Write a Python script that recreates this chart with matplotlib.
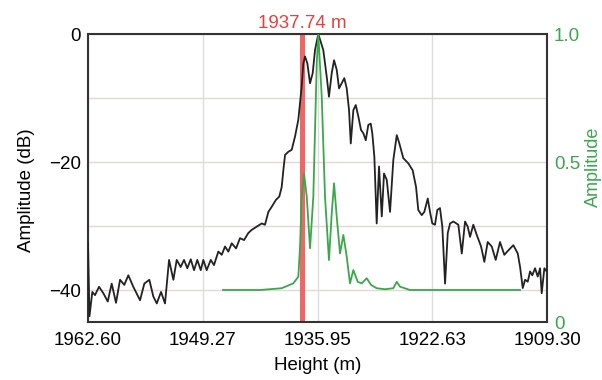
import numpy as np
import matplotlib
matplotlib.use("Agg")
import matplotlib.pyplot as plt

plt.rcParams['font.family'] = ['Liberation Sans', 'DejaVu Sans']

# black trace: height (m) vs amplitude (dB)
height_db = [1962.60, 1962.43, 1962.10, 1961.79, 1961.32, 1960.82, 1960.31, 1959.85,
             1959.35, 1958.88, 1958.39, 1957.92, 1957.34, 1956.56, 1956.06, 1955.48,
             1955.02, 1954.62, 1954.12, 1953.66, 1953.19, 1952.69, 1952.30, 1951.84,
             1951.45, 1951.07, 1950.67, 1950.29, 1949.91, 1949.51, 1949.21, 1948.82,
             1948.35, 1947.97, 1947.47, 1947.07, 1946.69, 1946.31, 1945.91, 1945.41,
             1944.95, 1944.48, 1943.99, 1943.59, 1943.01, 1942.43, 1942.05, 1941.66,
             1941.27, 1940.77, 1940.39, 1940.11, 1939.92, 1939.72, 1939.34, 1938.95,
             1938.56, 1938.18, 1937.98, 1937.79, 1937.60, 1937.40, 1937.13, 1936.82,
             1936.51, 1936.24, 1935.86, 1935.28, 1934.88, 1934.62, 1934.30, 1934.03,
             1933.72, 1933.45, 1933.14, 1932.84, 1932.56, 1932.29, 1932.09, 1931.79,
             1931.51, 1931.21, 1930.90, 1930.63, 1930.35, 1930.05, 1929.77, 1929.59,
             1929.35, 1929.08, 1928.81, 1928.49, 1928.23, 1927.91, 1927.53, 1927.15,
             1926.75, 1926.45, 1925.99, 1925.41, 1924.90, 1924.51, 1924.25, 1923.85,
             1923.55, 1923.15, 1922.89, 1922.62, 1922.31, 1922.04, 1921.73, 1921.46,
             1921.14, 1920.83, 1920.56, 1920.18, 1919.60, 1919.20, 1918.82, 1918.51,
             1918.24, 1917.86, 1917.46, 1916.96, 1916.58, 1916.19, 1915.72, 1915.26,
             1914.76, 1914.26, 1913.79, 1913.21, 1912.70, 1912.43, 1912.12, 1911.85,
             1911.54, 1911.27, 1911.01, 1910.69, 1910.38, 1910.11, 1909.92, 1909.61,
             1909.34]
amp_db = [-32.7, -44.1, -40.3, -40.8, -39.5, -40.5, -41.8, -39.0,
          -42.0, -38.4, -39.2, -37.7, -39.5, -41.6, -39.0, -38.4,
          -41.0, -42.1, -40.3, -42.1, -35.3, -38.4, -35.3, -36.4,
          -35.3, -36.6, -35.2, -36.9, -35.3, -36.9, -35.3, -36.9,
          -35.3, -36.1, -34.0, -34.5, -33.2, -34.0, -32.7, -33.5,
          -31.9, -32.2, -31.1, -30.6, -30.1, -29.6, -29.8, -27.8,
          -27.0, -25.9, -25.4, -23.9, -21.3, -18.9, -18.4, -18.1,
          -16.0, -13.4, -10.8, -8.2, -4.6, -3.5, -4.6, -7.7,
          -6.1, -2.5, 0.0, -2.5, -6.7, -9.8, -6.1, -4.1,
          -5.6, -8.5, -7.7, -6.9, -8.5, -11.9, -17.1, -11.9,
          -11.1, -12.9, -15.0, -15.5, -16.6, -14.2, -14.0, -15.5,
          -19.2, -29.6, -20.7, -28.5, -21.8, -22.8, -27.8, -19.7,
          -15.8, -17.1, -19.4, -20.2, -21.3, -23.9, -27.5, -28.3,
          -27.8, -25.7, -27.8, -29.6, -29.8, -27.5, -27.2, -30.1,
          -39.0, -31.1, -29.6, -29.3, -29.8, -34.3, -29.3, -30.1,
          -31.7, -29.8, -31.4, -33.2, -35.6, -32.5, -33.2, -35.3,
          -32.5, -34.5, -33.8, -33.0, -34.3, -36.4, -39.7, -38.4,
          -38.7, -37.1, -37.7, -36.6, -37.9, -36.6, -40.5, -36.6,
          -37.1]

# green trace: height (m) vs linear amplitude
height_lin = [1946.92, 1942.63, 1940.11, 1938.76, 1938.18, 1937.98, 1937.79, 1937.52,
              1937.20, 1936.82, 1936.44, 1936.24, 1936.04, 1935.86, 1935.46, 1935.08,
              1934.62, 1934.30, 1934.03, 1933.72, 1933.34, 1932.95, 1932.56, 1932.18,
              1931.79, 1931.28, 1930.82, 1930.24, 1929.74, 1929.08, 1928.11, 1927.15,
              1926.75, 1926.37, 1925.21, 1912.43]
amp_lin = [0.0, 0.0, 0.007, 0.026, 0.052, 0.169, 0.364, 0.456,
           0.364, 0.163, 0.364, 0.625, 0.886, 1.0, 0.755, 0.364,
           0.117, 0.300, 0.417, 0.286, 0.143, 0.215, 0.130, 0.026,
           0.078, 0.032, 0.026, 0.046, 0.020, 0.007, 0.003, 0.007,
           0.032, 0.013, 0.0, 0.0]

x_ticks = [1962.60, 1949.27, 1935.95, 1922.63, 1909.30]
marker_height = 1937.74

black = '#222222'
green = '#3aa84a'
red = '#e8403f'

fig = plt.figure(figsize=(6.02, 3.80), dpi=100)
ax = fig.add_axes([0.1462, 0.1526, 0.7625, 0.7579])

ax.axvline(marker_height, color='#ef5555', lw=3.6, alpha=0.9, zorder=1)
ax.plot(height_db, amp_db, color=black, lw=1.3, zorder=3)

ax.set_xlim(1962.60, 1909.30)
ax.set_ylim(-45, 0)
ax.set_xticks(x_ticks)
ax.set_xticklabels(['%.2f' % t for t in x_ticks])
ax.set_yticks([0, -20, -40])
ax.set_yticks([-10, -30], minor=True)
ax.tick_params(axis='both', which='both', length=0, labelsize=13.5)
ax.tick_params(axis='x', pad=7)
ax.tick_params(axis='y', pad=5)
ax.grid(axis='y', which='both', color='#e6d6d6', lw=1.0)
ax.grid(axis='x', which='major', color='#dcdcdc', lw=1.0)
ax.set_axisbelow(True)
for s in ax.spines.values():
    s.set_color('#333333')
    s.set_linewidth(1.5)

ax.set_xlabel('Height (m)', fontsize=13.5, labelpad=6)
ax.set_ylabel('Amplitude (dB)', fontsize=13.5, labelpad=6)
ax.yaxis.set_label_coords(-0.115, 0.458)

ax2 = ax.twinx()
ax2.plot(height_lin, amp_lin, color=green, lw=1.3)
ax2.set_ylim(-0.125, 1.0)
ax2.set_yticks([-0.125, 0.5, 1.0])
ax2.set_yticklabels(['0', '0.5', '1.0'])
ax2.tick_params(axis='y', length=0, labelsize=13.5, labelcolor=green, pad=5)
for s in ax2.spines.values():
    s.set_visible(False)
ax2.set_ylabel('Amplitude', color=green, fontsize=13)
ax2.yaxis.set_label_coords(1.082, 0.538)

ax.text(marker_height, 1.008, '%.2f m' % marker_height, transform=ax.get_xaxis_transform(),
        color=red, fontsize=13.5, ha='center', va='bottom')

fig.savefig('out.png', dpi=100)
